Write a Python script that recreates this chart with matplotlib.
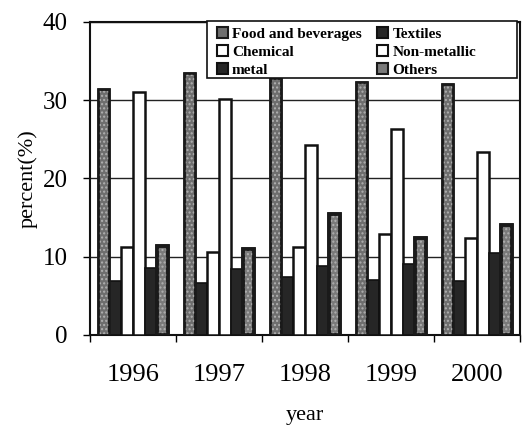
import numpy as np
import matplotlib
matplotlib.use('Agg')
import matplotlib.pyplot as plt
from matplotlib.patches import Patch, Rectangle

plt.rcParams['font.family'] = 'Liberation Serif'

years = ['1996', '1997', '1998', '1999', '2000']
food = [31.5, 33.5, 32.9, 32.3, 32.1]
textiles = [6.9, 6.6, 7.4, 7.0, 6.9]
chemical = [11.2, 10.6, 11.2, 12.9, 12.4]
non_metallic = [31.0, 30.2, 24.3, 26.3, 23.4]
metal = [8.6, 8.4, 8.8, 9.1, 10.5]
others = [11.4, 11.0, 15.5, 12.4, 14.0]

series = [
    ('Food and beverages', food, '#6e6e6e', '#1a1a1a', 1.8),
    ('Textiles', textiles, '#262626', '#111111', 1.2),
    ('Chemical', chemical, 'white', '#111111', 1.8),
    ('Non-metallic', non_metallic, 'white', '#111111', 1.8),
    ('metal', metal, '#262626', '#111111', 1.2),
    ('Others', others, '#7a7a7a', '#1a1a1a', 2.6),
]

fig = plt.figure(figsize=(5.22, 4.28), dpi=100)
ax = fig.add_axes([0.1724, 0.2173, 0.8238, 0.7313])

x = np.arange(len(years))
w = 0.137
for k, (name, vals, fc, ec, lw) in enumerate(series):
    pos = x + 0.5 + (k - 2.5) * w
    ax.bar(pos, vals, width=w, color=fc, edgecolor=ec, linewidth=lw, zorder=3)
    if name in ('Food and beverages', 'Others'):
        # speckled texture
        ax.bar(pos, vals, width=w, color='none', edgecolor='#b0b0b0',
               hatch='....', linewidth=0, zorder=3.5)
        ax.bar(pos, vals, width=w, color='none', edgecolor=ec,
               linewidth=lw, zorder=4)

ax.set_xlim(0, 5)
ax.set_ylim(0, 40)
ax.set_yticks([0, 10, 20, 30, 40])
ax.yaxis.grid(True, color='#222222', linewidth=1.0, zorder=0)
ax.set_axisbelow(True)

ax.set_xticks(np.arange(0, 6))
ax.set_xticklabels([])
ax.set_xticks(x + 0.5, minor=True)
ax.set_xticklabels(years, minor=True, fontsize=19)
ax.tick_params(axis='x', which='major', direction='out', length=5, width=1)
ax.tick_params(axis='x', which='minor', length=0, pad=21)
ax.tick_params(axis='y', direction='out', length=5, width=1, labelsize=18, pad=11)

for s in ax.spines.values():
    s.set_linewidth(1.5)
    s.set_color('#111111')

ax.set_ylabel('percent(%)', fontsize=16, labelpad=4)
ax.set_xlabel('year', fontsize=16, labelpad=14)

# legend box is wider than its contents in the original
box = Rectangle((0.272, 0.822), 0.721, 0.18, transform=ax.transAxes,
                facecolor='white', edgecolor='#111111', linewidth=1.2,
                zorder=9, clip_on=False)
ax.add_patch(box)

handles = {}
for name, vals, fc, ec, lw in series:
    handles[name] = Patch(facecolor=fc, edgecolor=ec, linewidth=1.5, label=name)
order = ['Food and beverages', 'Chemical', 'metal',
         'Textiles', 'Non-metallic', 'Others']
leg = ax.legend([handles[n] for n in order], order, ncol=2,
                loc='upper left', bbox_to_anchor=(0.284, 1.0),
                frameon=False,
                prop={'family': 'Liberation Serif', 'weight': 'bold', 'size': 11},
                handlelength=0.75, handleheight=0.75, handletextpad=0.25,
                labelspacing=0.28, borderpad=0.3, borderaxespad=0,
                columnspacing=1.0)
leg.set_zorder(10)

fig.savefig('out.png', dpi=100)
